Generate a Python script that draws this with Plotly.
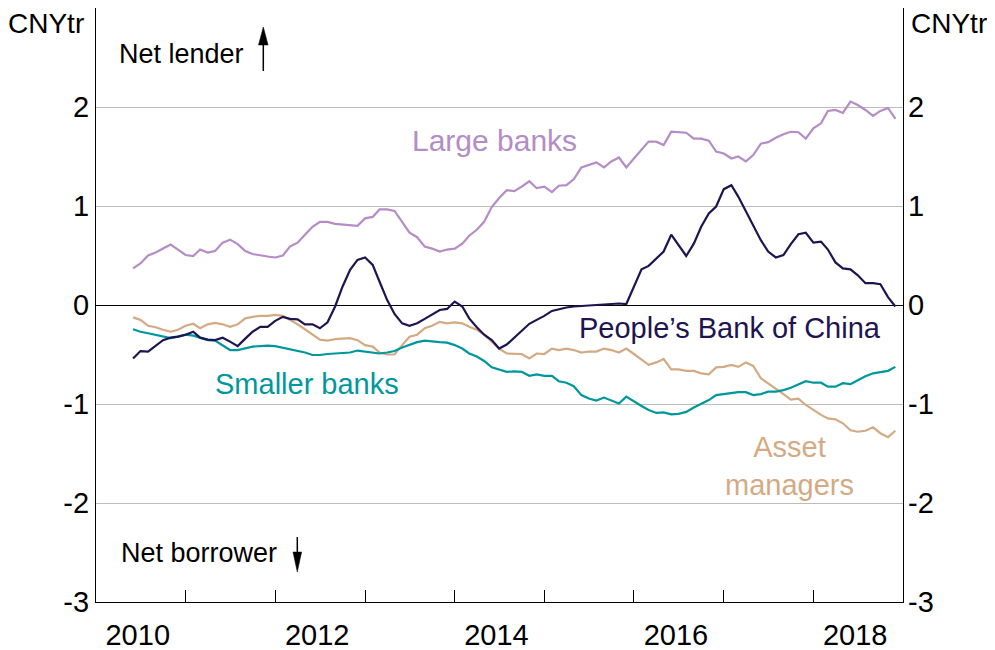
import pandas as pd
import plotly.graph_objects as go

# ---- data (CNY trillion, monthly Jun 2010 - Dec 2018) ----
months = pd.date_range("2010-06-01", periods=103, freq="MS")

large_banks = [
    0.37, 0.42, 0.50, 0.53, 0.57, 0.61, 0.56, 0.505, 0.495, 0.56,
    0.53, 0.545, 0.63, 0.66, 0.615, 0.545, 0.515, 0.50, 0.49, 0.48,
    0.50, 0.59, 0.63, 0.71, 0.79, 0.84, 0.84, 0.82, 0.815, 0.805,
    0.80, 0.875, 0.89, 0.965, 0.965, 0.95, 0.84, 0.73, 0.685, 0.59,
    0.57, 0.54, 0.56, 0.57, 0.62, 0.70, 0.76, 0.84, 0.99, 1.08,
    1.16, 1.15, 1.195, 1.25, 1.18, 1.195, 1.14, 1.205, 1.21, 1.27,
    1.39, 1.415, 1.44, 1.39, 1.45, 1.49, 1.39, 1.48, 1.565, 1.65,
    1.65, 1.615, 1.75, 1.745, 1.74, 1.68, 1.68, 1.66, 1.55, 1.53,
    1.48, 1.50, 1.45, 1.515, 1.63, 1.645, 1.69, 1.725, 1.75, 1.745,
    1.68, 1.785, 1.835, 1.96, 1.97, 1.94, 2.055, 2.02, 1.97, 1.91,
    1.96, 1.99, 1.88,
]

pboc = [
    -0.54, -0.465, -0.47, -0.41, -0.355, -0.33, -0.32, -0.30, -0.27, -0.33,
    -0.35, -0.355, -0.33, -0.37, -0.415, -0.34, -0.27, -0.22, -0.22, -0.16,
    -0.12, -0.14, -0.145, -0.195, -0.195, -0.235, -0.175, -0.015, 0.185, 0.355,
    0.455, 0.48, 0.405, 0.235, 0.05, -0.09, -0.185, -0.21, -0.185, -0.14,
    -0.095, -0.05, -0.04, 0.035, -0.015, -0.135, -0.225, -0.30, -0.355, -0.44,
    -0.40, -0.33, -0.27, -0.19, -0.15, -0.11, -0.06, -0.04, -0.025, -0.015,
    -0.01, -0.005, 0.0, 0.005, 0.01, 0.015, 0.01, 0.185, 0.36, 0.395,
    0.47, 0.54, 0.71, 0.605, 0.495, 0.62, 0.79, 0.925, 0.995, 1.17,
    1.21, 1.095, 0.945, 0.79, 0.655, 0.54, 0.48, 0.505, 0.615, 0.715,
    0.73, 0.63, 0.64, 0.56, 0.43, 0.37, 0.36, 0.30, 0.22, 0.22,
    0.21, 0.08, -0.015,
]

smaller_banks = [
    -0.245, -0.27, -0.285, -0.30, -0.32, -0.335, -0.32, -0.30, -0.31, -0.335,
    -0.355, -0.36, -0.405, -0.455, -0.455, -0.44, -0.42, -0.415, -0.41, -0.415,
    -0.43, -0.45, -0.465, -0.48, -0.505, -0.505, -0.495, -0.49, -0.48, -0.48,
    -0.46, -0.47, -0.48, -0.49, -0.48, -0.465, -0.43, -0.40, -0.375, -0.36,
    -0.37, -0.375, -0.38, -0.405, -0.44, -0.49, -0.52, -0.565, -0.63, -0.65,
    -0.675, -0.67, -0.675, -0.715, -0.70, -0.715, -0.715, -0.77, -0.785, -0.82,
    -0.91, -0.945, -0.965, -0.935, -0.965, -0.995, -0.925, -0.975, -1.02, -1.06,
    -1.09, -1.085, -1.105, -1.10, -1.08, -1.035, -0.995, -0.96, -0.91, -0.90,
    -0.885, -0.88, -0.88, -0.91, -0.90, -0.875, -0.875, -0.86, -0.835, -0.80,
    -0.77, -0.785, -0.785, -0.825, -0.825, -0.79, -0.80, -0.76, -0.72, -0.69,
    -0.675, -0.665, -0.625,
]

asset_managers = [
    -0.125, -0.15, -0.21, -0.225, -0.25, -0.27, -0.25, -0.21, -0.19, -0.235,
    -0.195, -0.18, -0.195, -0.22, -0.195, -0.135, -0.12, -0.11, -0.11, -0.10,
    -0.11, -0.15, -0.195, -0.245, -0.30, -0.35, -0.36, -0.345, -0.34, -0.335,
    -0.355, -0.405, -0.42, -0.48, -0.50, -0.50, -0.405, -0.32, -0.30, -0.235,
    -0.21, -0.17, -0.185, -0.175, -0.185, -0.22, -0.25, -0.30, -0.37, -0.44,
    -0.49, -0.49, -0.495, -0.54, -0.49, -0.495, -0.44, -0.455, -0.44, -0.455,
    -0.48, -0.47, -0.47, -0.44, -0.455, -0.48, -0.44, -0.495, -0.55, -0.605,
    -0.58, -0.545, -0.65, -0.65, -0.665, -0.665, -0.69, -0.70, -0.63, -0.625,
    -0.605, -0.625, -0.58, -0.615, -0.74, -0.79, -0.84, -0.90, -0.955, -0.945,
    -1.01, -1.06, -1.11, -1.145, -1.155, -1.195, -1.265, -1.28, -1.27, -1.235,
    -1.295, -1.335, -1.27,
]

year_ticks = ["2011-01-01", "2012-01-01", "2013-01-01", "2014-01-01",
              "2015-01-01", "2016-01-01", "2017-01-01", "2018-01-01"]
year_label_pos = ["2010-06-20", "2012-06-20", "2014-06-20", "2016-06-20", "2018-06-20"]
year_labels = ["2010", "2012", "2014", "2016", "2018"]
y_ticks = [-3, -2, -1, 0, 1, 2]
y_labels = ["-3", "-2", "-1", "0", "1", "2"]

# ---- styling ----
FONT = "Liberation Sans, Arial, sans-serif"
C_LARGE = "#B48CC6"
C_PBOC = "#1E1450"
C_SMALL = "#00979C"
C_ASSET = "#D4AA84"

# page offset of the figure (default body margin of the html page)
OFF = 8
W, H = 995 - OFF, 650 - OFF
# plot area in page pixels: x 96..903, y 8..602
ML, MR, MT, MB = 96 - OFF, 995 - 903, 8 - OFF, 650 - 602
PW, PH = W - ML - MR, H - MT - MB


def px(xp):
    """page pixel x -> paper fraction"""
    return (xp - 96) / PW


def py(yp):
    """page pixel y -> paper fraction"""
    return (602 - yp) / PH


fig = go.Figure()
for vals, col in [(large_banks, C_LARGE), (asset_managers, C_ASSET),
                  (smaller_banks, C_SMALL), (pboc, C_PBOC)]:
    fig.add_trace(go.Scatter(x=months, y=vals, mode="lines",
                             line=dict(color=col, width=2.2),
                             showlegend=False, hoverinfo="skip"))
fig.add_trace(go.Scatter(x=[months[0]], y=[None], xaxis="x2", yaxis="y2",
                         showlegend=False, hoverinfo="skip"))

xrange = ["2010-01-01", "2019-01-01"]
fig.update_layout(
    width=W, height=H,
    margin=dict(l=ML, r=MR, t=MT, b=MB, autoexpand=False),
    paper_bgcolor="white", plot_bgcolor="white",
    font=dict(family=FONT, size=28, color="black"),
    xaxis=dict(type="date", range=xrange, tickvals=year_ticks,
               showticklabels=False, ticks="inside", ticklen=12,
               tickcolor="black", tickwidth=1, showline=True,
               linecolor="black", linewidth=1.3, mirror=True,
               showgrid=False, zeroline=False, automargin=False),
    xaxis2=dict(type="date", range=xrange, overlaying="x", anchor="y",
                side="bottom", tickvals=year_label_pos, ticktext=year_labels,
                ticks="outside", ticklen=7, tickcolor="rgba(0,0,0,0)",
                showline=False, showgrid=False, zeroline=False,
                tickfont=dict(size=29), automargin=False),
    yaxis=dict(range=[-3, 3], tickvals=y_ticks, ticktext=y_labels,
               ticks="", showgrid=True, gridcolor="#BDBDBD", gridwidth=1,
               zeroline=True, zerolinecolor="black", zerolinewidth=1.3,
               showline=True, linecolor="black", linewidth=1.3, mirror=True,
               tickfont=dict(size=29), automargin=False),
    yaxis2=dict(range=[-3, 3], tickvals=y_ticks, ticktext=y_labels,
                overlaying="y", anchor="x", side="right", ticks="",
                showgrid=False, zeroline=False, showline=False,
                ticklabelstandoff=4,
                tickfont=dict(size=29), automargin=False),
)

ann = []
ann.append(dict(text="CNYtr", xref="paper", yref="paper", x=px(86), y=py(23),
                xanchor="right", yanchor="middle", showarrow=False,
                font=dict(size=28)))
ann.append(dict(text="CNYtr", xref="paper", yref="paper", x=px(909), y=py(23),
                xanchor="left", yanchor="middle", showarrow=False,
                font=dict(size=28)))
ann.append(dict(text="Net lender", xref="paper", yref="paper", x=px(117), y=py(54),
                xanchor="left", yanchor="middle", showarrow=False,
                font=dict(size=27)))
ann.append(dict(text="Net borrower", xref="paper", yref="paper", x=px(119), y=py(553),
                xanchor="left", yanchor="middle", showarrow=False,
                font=dict(size=27)))
ann.append(dict(text="Large banks", x="2014-06-13", y=1.66, showarrow=False,
                xanchor="center", yanchor="middle", font=dict(size=30, color=C_LARGE)))
ann.append(dict(text="People’s Bank of China", x="2017-01-25", y=-0.23,
                showarrow=False, xanchor="center", yanchor="middle",
                font=dict(size=29, color=C_PBOC)))
ann.append(dict(text="Smaller banks", x="2012-05-10", y=-0.80, showarrow=False,
                xanchor="center", yanchor="middle", font=dict(size=29, color=C_SMALL)))
ann.append(dict(text="Asset<br>managers", x="2017-09-25", y=-1.63, showarrow=False,
                xanchor="center", yanchor="middle", font=dict(size=29, color=C_ASSET)))
fig.update_layout(annotations=ann)

# arrows (decorations, placed in paper coordinates)
shapes = []
shapes.append(dict(type="line", xref="paper", yref="paper",
                   x0=px(263.3), x1=px(263.3), y0=py(71), y1=py(44),
                   line=dict(color="black", width=1.5)))
shapes.append(dict(type="path", xref="paper", yref="paper",
                   path=f"M {px(258.5)},{py(45)} L {px(268.1)},{py(45)} L {px(263.3)},{py(27)} Z",
                   fillcolor="black", line=dict(color="black", width=0.5)))
shapes.append(dict(type="line", xref="paper", yref="paper",
                   x0=px(297.3), x1=px(297.3), y0=py(537), y1=py(553),
                   line=dict(color="black", width=1.5)))
shapes.append(dict(type="path", xref="paper", yref="paper",
                   path=f"M {px(293)},{py(552)} L {px(301.6)},{py(552)} L {px(297.3)},{py(572)} Z",
                   fillcolor="black", line=dict(color="black", width=0.5)))
fig.update_layout(shapes=shapes)

fig.write_html("out.html")
